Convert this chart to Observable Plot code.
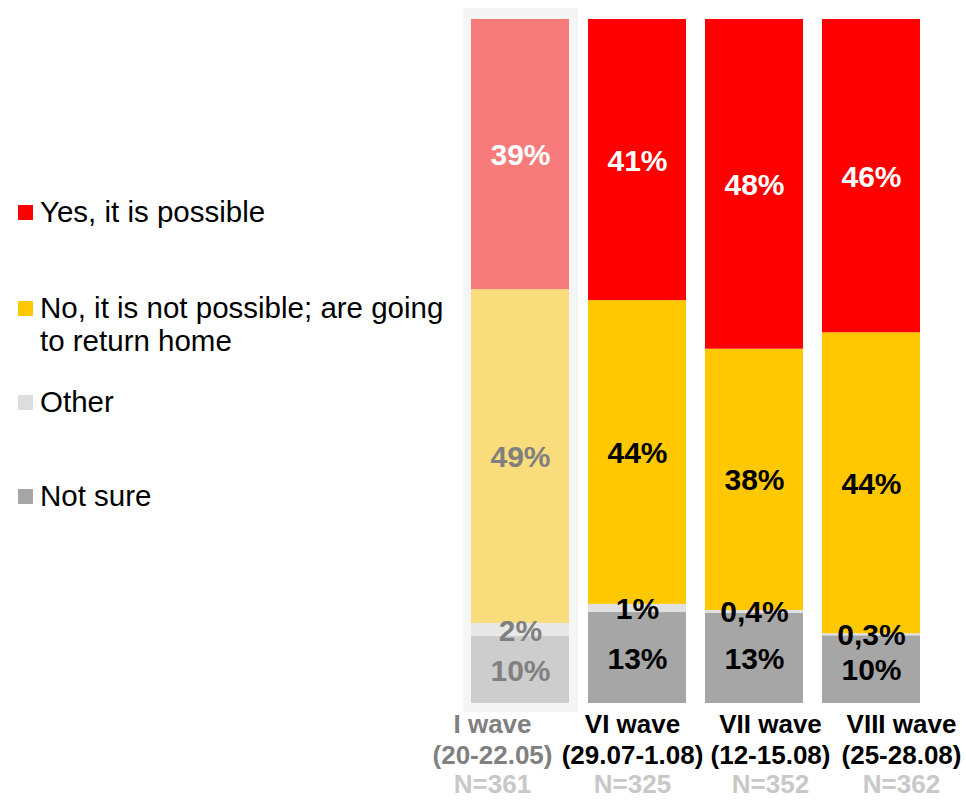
<!DOCTYPE html>
<html>
<head>
<meta charset="utf-8">
<script src="https://cdn.jsdelivr.net/npm/d3@7"></script>
<script src="https://cdn.jsdelivr.net/npm/@observablehq/plot@0.6"></script>
<style>
  body { margin: 0; background: #fff; font-family: "Liberation Sans", Arial, sans-serif; }
  #wrap { position: relative; width: 966px; height: 800px; overflow: hidden; }
  #chart { position: absolute; left: 0; top: 0; }
  .leg { position: absolute; left: 18px; font-size: 29.5px; line-height: 33px; color: #000; white-space: nowrap; }
  .leg .sw { position: absolute; left: 0; top: 10px; width: 15px; height: 15px; }
  .leg .tx { margin-left: 22px; display: block; }
</style>
</head>
<body>
<div id="wrap">
  <div id="chart"></div>
  <div id="legend"></div>
</div>
<script>
const waves = ["I wave", "VI wave", "VII wave", "VIII wave"];
const dates = ["(20-22.05)", "(29.07-1.08)", "(12-15.08)", "(25-28.08)"];
const sampleSizes = ["N=361", "N=325", "N=352", "N=362"];
const categories = ["Not sure", "Other", "No, it is not possible; are going to return home", "Yes, it is possible"];
const notSure = [9.8, 13.3, 13.2, 9.9];
const other = [1.9, 1.2, 0.4, 0.3];
const no = [48.8, 44.4, 38.2, 44.0];
const yes = [39.5, 41.1, 48.2, 45.8];
const notSureLabels = ["10%", "13%", "13%", "10%"];
const otherLabels = ["2%", "1%", "0,4%", "0,3%"];
const noLabels = ["49%", "44%", "38%", "44%"];
const yesLabels = ["39%", "41%", "48%", "46%"];

const seriesValues = [notSure, other, no, yes];
const seriesLabels = [notSureLabels, otherLabels, noLabels, yesLabels];
const mainColors = ["#a6a6a6", "#e0e0e0", "#ffc800", "#ff0000"];
const fadedColors = ["#cdcdcd", "#e8e8e8", "#f9dc7c", "#f77b7b"];
const mainText = ["#000", "#000", "#000", "#fff"];
const fadedText = ["#808080", "#808080", "#808080", "#fff"];

const rows = [];
waves.forEach((w, i) => {
  categories.forEach((c, k) => {
    rows.push({
      wave: w, category: c, value: seriesValues[k][i], label: seriesLabels[k][i],
      fill: i === 0 ? fadedColors[k] : mainColors[k],
      textColor: i === 0 ? fadedText[k] : mainText[k]
    });
  });
});

const axisRows = waves.map((w, i) => ({wave: w, date: dates[i], n: sampleSizes[i], color: i === 0 ? "#808080" : "#000"}));
const labelShift = [-28, -5, 16, 30];

const axisMarks = [];
axisRows.forEach((r, i) => {
  const common = {x: "wave", frameAnchor: "bottom", lineAnchor: "middle", fontSize: 26, fontWeight: "bold", dx: labelShift[i]};
  axisMarks.push(Plot.text([r], {...common, text: "wave", dy: 21, fill: "color"}));
  axisMarks.push(Plot.text([r], {...common, text: "date", dy: 52, fill: "color"}));
  axisMarks.push(Plot.text([r], {...common, text: "n", dy: 81, fill: "#c8c8c8"}));
});

const chart = Plot.plot({
  width: 966,
  height: 800,
  marginTop: 19,
  marginBottom: 97,
  marginLeft: 0,
  marginRight: 0,
  style: {fontFamily: "'Liberation Sans', Arial, sans-serif", background: "transparent", overflow: "visible"},
  x: {domain: waves, range: [470, 920], paddingInner: 0.165, paddingOuter: 0, axis: null},
  y: {domain: [0, 100], axis: null},
  color: {type: "identity"},
  marks: [
    Plot.barY([waves[0]], {x: d => d, y1: 0, y2: 100, fill: "#f5f5f5", insetLeft: -8, insetRight: -9, insetTop: -11, insetBottom: -9}),
    Plot.barY(rows, Plot.stackY({x: "wave", y: "value", z: "category", fill: "fill"})),
    Plot.text(rows, Plot.stackY({x: "wave", y: "value", z: "category", text: "label", fill: "textColor", fontSize: 30, fontWeight: "bold", dy: 1})),
    ...axisMarks
  ]
});
document.getElementById("chart").appendChild(chart);

// legend (top-down order)
const legendTops = [195, 291, 385, 479];
const legendOrder = [3, 2, 1, 0];
const legendColors = ["#a6a6a6", "#dddddd", "#ffc800", "#ff0000"];
const legendTextHtml = {
  3: "Yes, it is possible",
  2: "No, it is not possible; are going<br>to return home",
  1: "Other",
  0: "Not sure"
};
const leg = document.getElementById("legend");
legendOrder.forEach((k, j) => {
  const d = document.createElement("div");
  d.className = "leg";
  d.style.top = legendTops[j] + "px";
  d.innerHTML = `<span class="sw" style="background:${legendColors[k]}"></span><span class="tx">${legendTextHtml[k]}</span>`;
  leg.appendChild(d);
});
</script>
</body>
</html>
